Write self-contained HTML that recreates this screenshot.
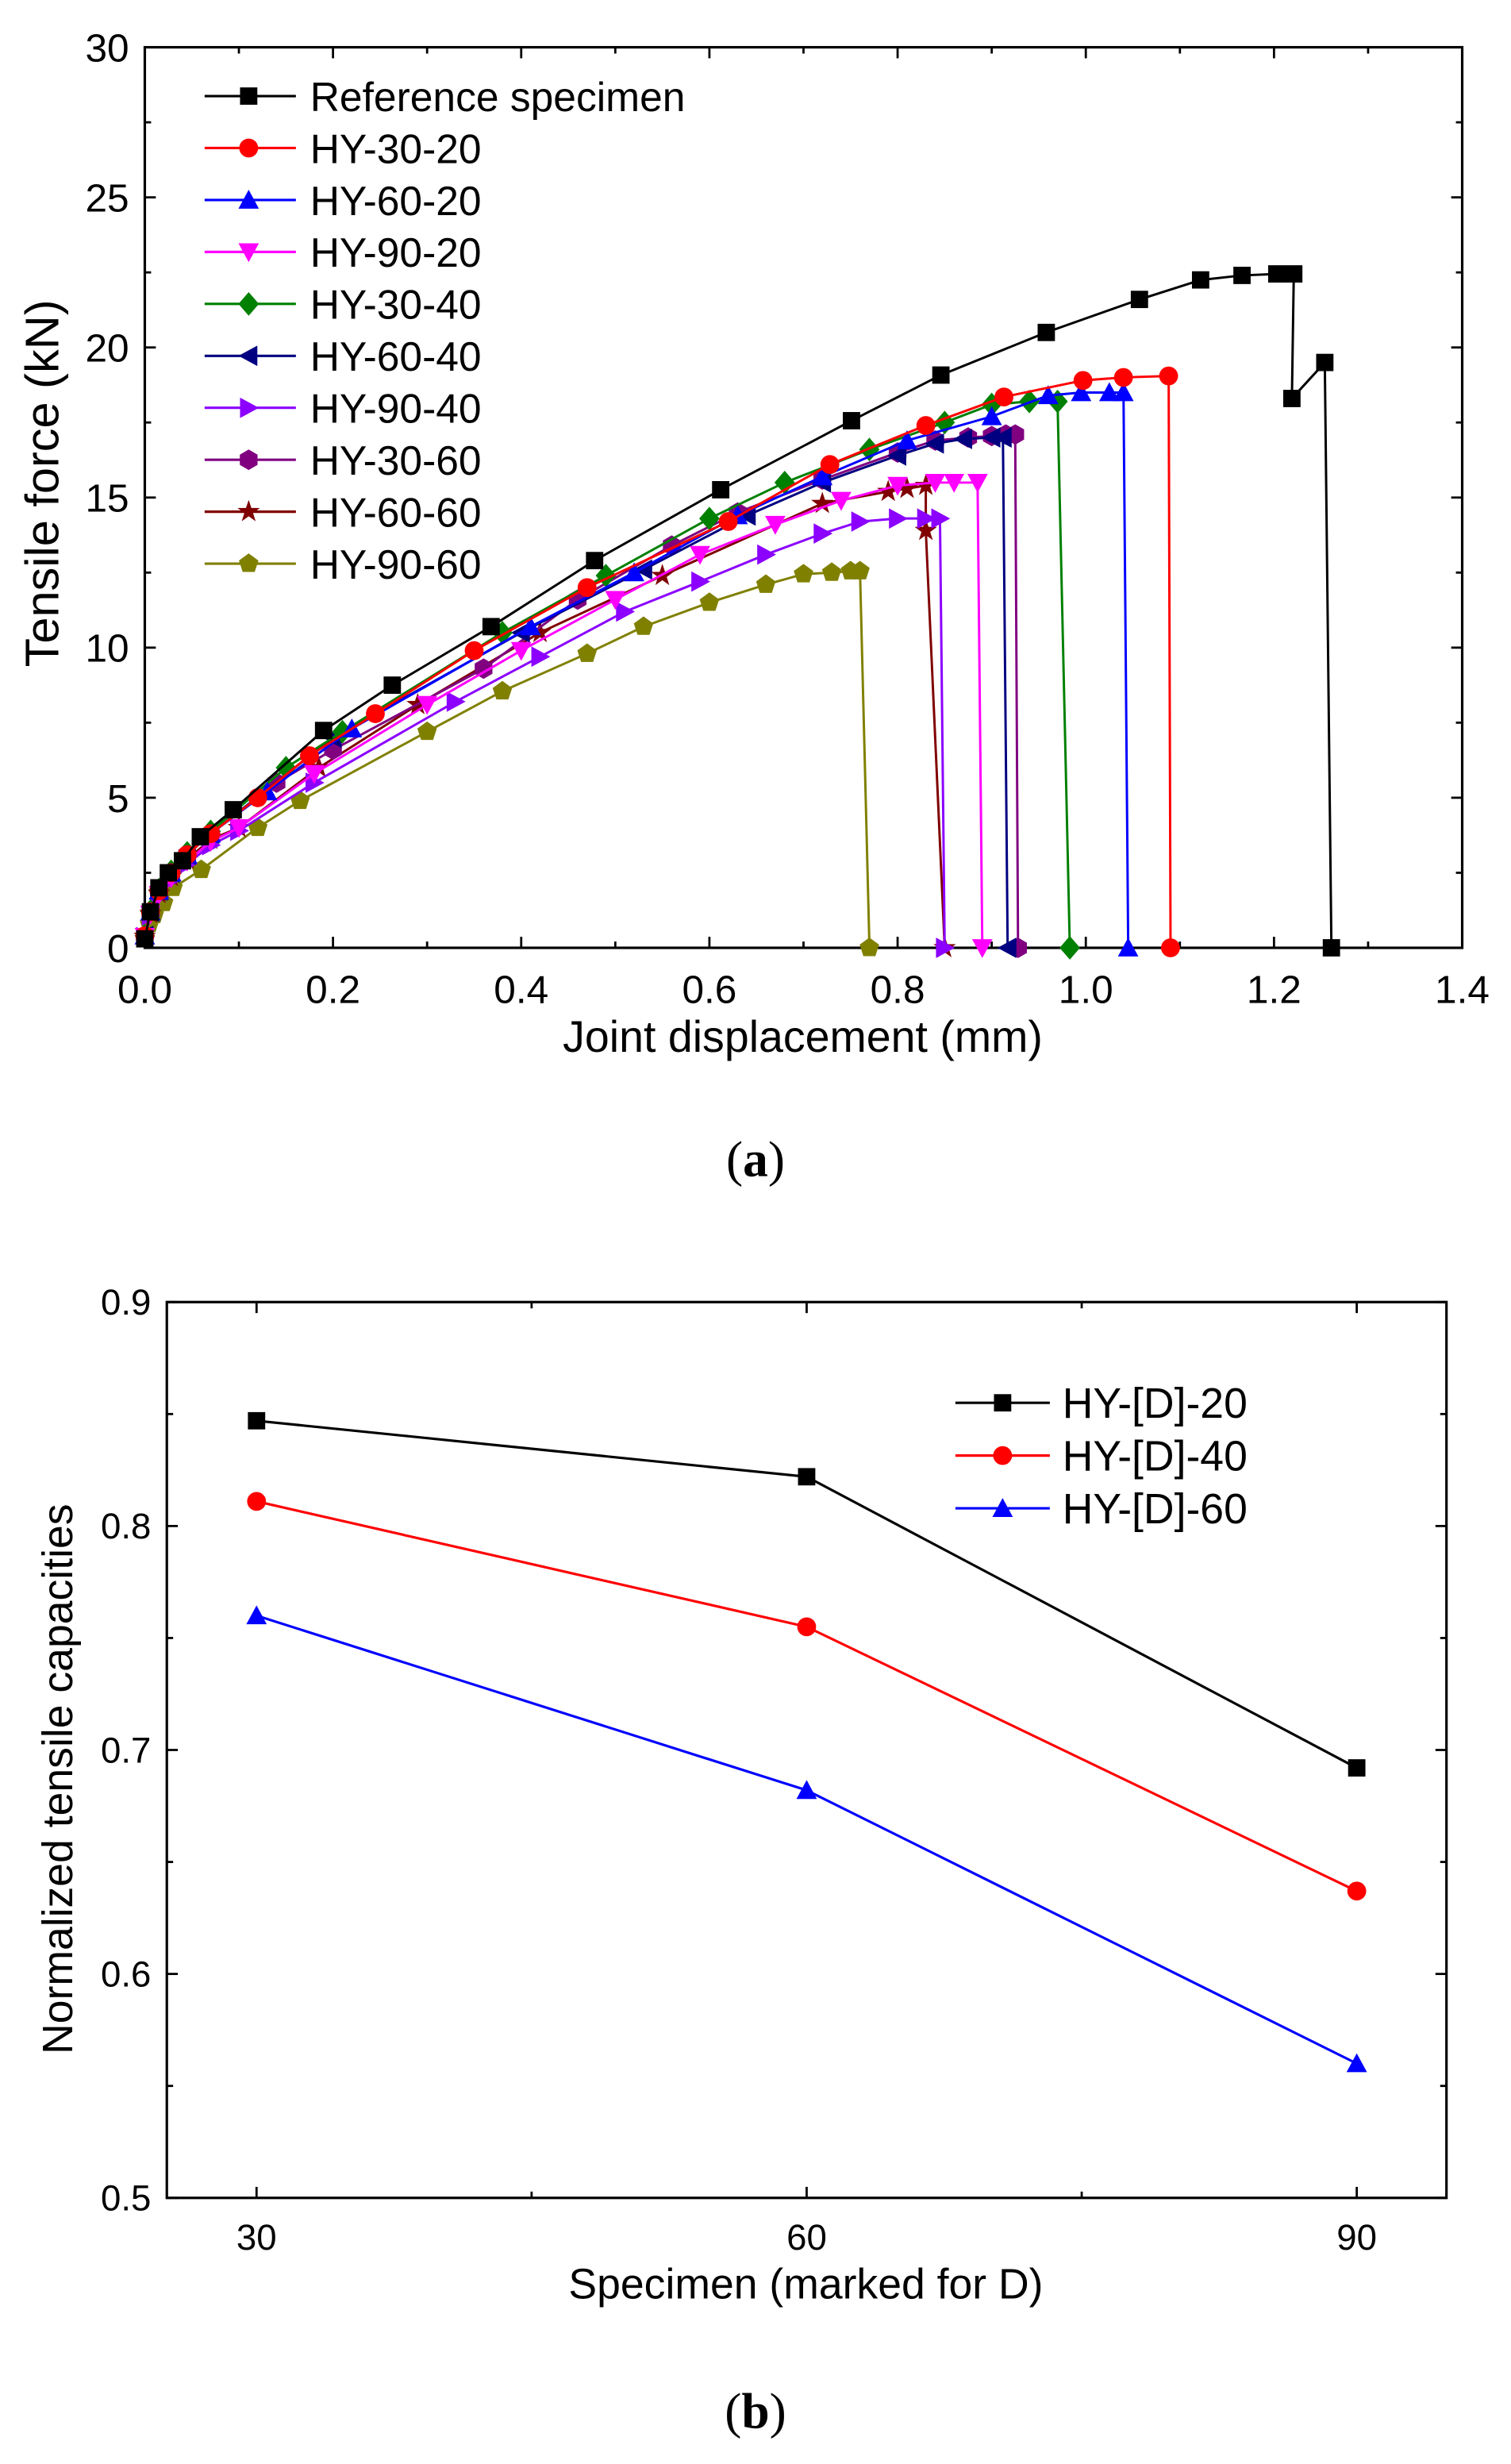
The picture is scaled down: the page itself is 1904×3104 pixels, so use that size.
<!DOCTYPE html>
<html><head><meta charset="utf-8"><style>html,body{margin:0;padding:0;background:#fff}svg{display:block}</style></head>
<body>
<svg id="s" xmlns="http://www.w3.org/2000/svg" width="1904" height="3104" viewBox="0 0 960 1565" font-family="Liberation Sans, Arial, sans-serif"></svg>
<script>
const S=document.getElementById('s');let h='';
function add(x){h+=x;}
const L=92,R=929,T=30,B=602;
const X=v=>L+v*(R-L)/1.4, Y=v=>B-v*(B-T)/30;
add(`<rect x="${L}" y="${T}" width="${R-L}" height="${B-T}" fill="none" stroke="#000" stroke-width="1.6"/>`);
for(let i=0;i<=14;i++){const x=X(i*0.1),len=i%2?4:7;add(`<line x1="${x}" y1="${B}" x2="${x}" y2="${B-len}" stroke="#000" stroke-width="1.4"/><line x1="${x}" y1="${T}" x2="${x}" y2="${T+len}" stroke="#000" stroke-width="1.4"/>`);
 if(i%2==0)add(`<text x="${x}" y="${B+35}" font-size="25" text-anchor="middle">${(i/10).toFixed(1)}</text>`);}
for(let i=0;i<=12;i++){const y=Y(i*2.5),len=i%2?4:7;add(`<line x1="${L}" y1="${y}" x2="${L+len}" y2="${y}" stroke="#000" stroke-width="1.4"/><line x1="${R}" y1="${y}" x2="${R-len}" y2="${y}" stroke="#000" stroke-width="1.4"/>`);
 if(i%2==0)add(`<text x="${L-10}" y="${y+9}" font-size="25" text-anchor="end">${i*2.5}</text>`);}
add(`<text x="510" y="668" font-size="28" text-anchor="middle">Joint displacement (mm)</text>`);
add(`<text transform="translate(37,307) rotate(-90)" font-size="30" text-anchor="middle">Tensile force (kN)</text>`);
add(`<text x="480" y="747" font-size="32" font-family="Liberation Serif, serif" text-anchor="middle">(<tspan font-weight="bold">a</tspan>)</text>`);
function mk(t,x,y,c,s){s=s||6;
 if(t=='sq')return `<rect x="${x-s}" y="${y-s}" width="${2*s}" height="${2*s}" fill="${c}"/>`;
 if(t=='ci')return `<circle cx="${x}" cy="${y}" r="${s+0.5}" fill="${c}"/>`;
 if(t=='up')return `<polygon points="${x},${y-s-1} ${x-s-1},${y+s} ${x+s+1},${y+s}" fill="${c}"/>`;
 if(t=='dn')return `<polygon points="${x},${y+s+1} ${x-s-1},${y-s} ${x+s+1},${y-s}" fill="${c}"/>`;
 if(t=='lt')return `<polygon points="${x-s-1},${y} ${x+s},${y-s-1} ${x+s},${y+s+1}" fill="${c}"/>`;
 if(t=='rt')return `<polygon points="${x+s+1},${y} ${x-s},${y-s-1} ${x-s},${y+s+1}" fill="${c}"/>`;
 if(t=='di')return `<polygon points="${x},${y-s-2} ${x+s+1},${y} ${x},${y+s+2} ${x-s-1},${y}" fill="${c}"/>`;
 if(t=='hx'){let p=[];for(let k=0;k<6;k++){const a=Math.PI/3*k+Math.PI/6;p.push((x+(s+1)*Math.cos(a))+','+(y+(s+1)*Math.sin(a)));}return `<polygon points="${p.join(' ')}" fill="${c}"/>`;}
 if(t=='st'){let p=[];for(let k=0;k<10;k++){const a=-Math.PI/2+Math.PI/5*k,r=k%2?(s+1)*0.45:s+2;p.push((x+r*Math.cos(a))+','+(y+r*Math.sin(a)));}return `<polygon points="${p.join(' ')}" fill="${c}"/>`;}
 if(t=='pe'){let p=[];for(let k=0;k<5;k++){const a=-Math.PI/2+2*Math.PI/5*k;p.push((x+(s+1)*Math.cos(a))+','+(y+(s+1)*Math.sin(a)));}return `<polygon points="${p.join(' ')}" fill="${c}"/>`;}
}
const early=f=>[[0,0.4*f],[0.006,1.2*f],[0.015,1.9*f],[0.028,2.5*f],[0.045,3.1*f],[0.07,3.8*f]];
const series=[
['Reference specimen','#000','sq',[[0,0.3],[0.006,1.2],[0.015,2.0],[0.025,2.5],[0.04,2.9],[0.059,3.7],[0.094,4.6],[0.19,7.24],[0.263,8.75],[0.368,10.7],[0.478,12.9],[0.612,15.26],[0.751,17.56],[0.846,19.08],[0.958,20.5],[1.057,21.6],[1.122,22.25],[1.166,22.4],[1.203,22.45],[1.221,22.45],[1.219,18.3],[1.254,19.5],[1.261,0]]],
['HY-30-20','#ff0000','ci',[...early(1),[0.12,5.0],[0.175,6.4],[0.245,7.8],[0.35,9.9],[0.47,12.0],[0.62,14.2],[0.728,16.1],[0.83,17.4],[0.913,18.35],[0.997,18.9],[1.04,19.0],[1.088,19.05],[1.09,0]]],
['HY-60-20','#0000ff','up',[...early(1),[0.13,5.2],[0.22,7.3],[0.41,10.7],[0.52,12.5],[0.63,14.4],[0.72,15.7],[0.81,16.9],[0.9,17.7],[0.96,18.4],[0.995,18.5],[1.025,18.5],[1.04,18.5],[1.045,0]]],
['HY-90-20','#ff00ff','dn',[...early(0.93),[0.1,4.0],[0.18,5.8],[0.3,8.1],[0.4,9.9],[0.5,11.6],[0.59,13.1],[0.67,14.1],[0.74,14.9],[0.8,15.4],[0.84,15.5],[0.86,15.5],[0.885,15.5],[0.89,0]]],
['HY-30-40','#008000','di',[...early(1.02),[0.15,6.0],[0.21,7.2],[0.38,10.5],[0.49,12.4],[0.6,14.3],[0.68,15.5],[0.77,16.6],[0.85,17.5],[0.9,18.1],[0.94,18.2],[0.97,18.2],[0.983,0]]],
['HY-60-40','#000080','lt',[...early(1),[0.2,7.0],[0.4,10.5],[0.53,12.6],[0.64,14.4],[0.72,15.5],[0.8,16.4],[0.84,16.8],[0.87,16.95],[0.9,17.0],[0.912,17.0],[0.917,0]]],
['HY-90-40','#8b00ff','rt',[...early(0.9),[0.1,3.9],[0.18,5.5],[0.33,8.2],[0.42,9.7],[0.51,11.2],[0.59,12.2],[0.66,13.1],[0.72,13.8],[0.76,14.2],[0.8,14.3],[0.83,14.3],[0.845,14.3],[0.85,0]]],
['HY-30-60','#800080','hx',[...early(1),[0.14,5.5],[0.2,6.6],[0.36,9.3],[0.46,11.6],[0.56,13.4],[0.63,14.5],[0.72,15.6],[0.8,16.5],[0.84,16.9],[0.875,17.0],[0.9,17.05],[0.915,17.1],[0.925,17.1],[0.928,0]]],
['HY-60-60','#800000','st',[...early(0.95),[0.1,4.0],[0.185,6.0],[0.29,8.1],[0.42,10.5],[0.55,12.4],[0.72,14.8],[0.79,15.2],[0.81,15.3],[0.83,15.4],[0.83,13.9],[0.85,0]]],
['HY-90-60','#808000','pe',[[0,0.3],[0.005,0.8],[0.01,1.1],[0.02,1.5],[0.03,2.0],[0.06,2.6],[0.12,4.0],[0.165,4.9],[0.3,7.2],[0.38,8.55],[0.47,9.8],[0.53,10.7],[0.6,11.5],[0.66,12.1],[0.7,12.45],[0.73,12.5],[0.75,12.55],[0.76,12.55],[0.77,0]]]
];
series.slice().reverse().forEach(s=>{
 const pts=s[3].map(p=>X(p[0]).toFixed(1)+','+Y(p[1]).toFixed(1)).join(' ');
 add(`<polyline points="${pts}" fill="none" stroke="${s[1]}" stroke-width="1.5"/>`);
 s[3].forEach(p=>add(mk(s[2],X(p[0]),Y(p[1]),s[1],5.5)));
});
series.forEach((s,i)=>{const y=61+i*33;
 add(`<line x1="130" y1="${y}" x2="188" y2="${y}" stroke="${s[1]}" stroke-width="1.6"/>`+mk(s[2],158,y,s[1],5.5)+`<text x="197" y="${y+9.5}" font-size="26">${s[0]}</text>`);});
const L2=106,R2=919,T2=827,B2=1396;
const X2=v=>163+(v-30)*(862-163)/60, Y2=v=>B2-(v-0.5)*(B2-T2)/0.4;
add(`<rect x="${L2}" y="${T2}" width="${R2-L2}" height="${B2-T2}" fill="none" stroke="#000" stroke-width="1.6"/>`);
[30,45,60,75,90].forEach((v,i)=>{const x=X2(v),len=i%2?4:7;add(`<line x1="${x}" y1="${B2}" x2="${x}" y2="${B2-len}" stroke="#000" stroke-width="1.4"/><line x1="${x}" y1="${T2}" x2="${x}" y2="${T2+len}" stroke="#000" stroke-width="1.4"/>`);
 if(i%2==0)add(`<text x="${x}" y="${B2+33}" font-size="23" text-anchor="middle">${v}</text>`);});
for(let i=0;i<=8;i++){const v=0.5+i*0.05,y=Y2(v),len=i%2?4:7;add(`<line x1="${L2}" y1="${y}" x2="${L2+len}" y2="${y}" stroke="#000" stroke-width="1.4"/><line x1="${R2}" y1="${y}" x2="${R2-len}" y2="${y}" stroke="#000" stroke-width="1.4"/>`);
 if(i%2==0)add(`<text x="${L2-10}" y="${y+8}" font-size="23" text-anchor="end">${v.toFixed(1)}</text>`);}
add(`<text x="512" y="1460" font-size="27" text-anchor="middle">Specimen (marked for D)</text>`);
add(`<text transform="translate(46,1130) rotate(-90)" font-size="27" text-anchor="middle">Normalized tensile capacities</text>`);
add(`<text x="480" y="1542" font-size="32" font-family="Liberation Serif, serif" text-anchor="middle">(<tspan font-weight="bold">b</tspan>)</text>`);
const sb=[['HY-[D]-20','#000','sq',[0.847,0.822,0.692]],['HY-[D]-40','#ff0000','ci',[0.811,0.755,0.637]],['HY-[D]-60','#0000ff','up',[0.76,0.682,0.56]]];
sb.forEach((s,i)=>{const pts=s[3].map((v,j)=>X2(30+30*j)+','+Y2(v)).join(' ');
 add(`<polyline points="${pts}" fill="none" stroke="${s[1]}" stroke-width="1.6"/>`);
 s[3].forEach((v,j)=>add(mk(s[2],X2(30+30*j),Y2(v),s[1],5.5)));
 const y=891+i*33.5;
 add(`<line x1="607" y1="${y}" x2="667" y2="${y}" stroke="${s[1]}" stroke-width="1.6"/>`+mk(s[2],637,y,s[1],5.5)+`<text x="675" y="${y+9.5}" font-size="27">${s[0]}</text>`);});
S.innerHTML=h;
</script>
</body></html>
